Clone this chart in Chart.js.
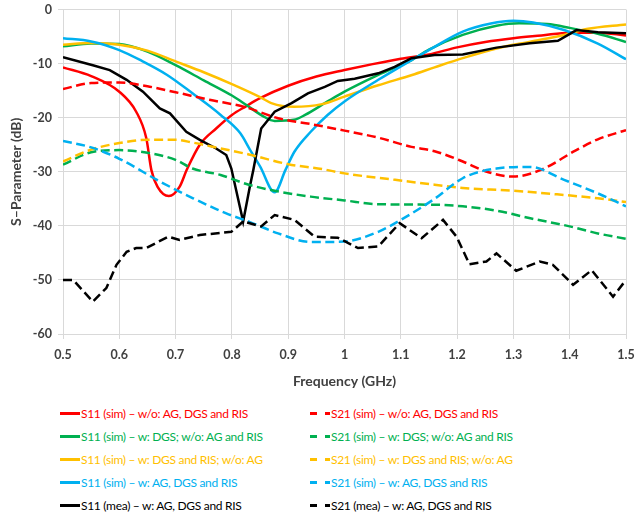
<!DOCTYPE html>
<html lang="en">
<head>
<meta charset="UTF-8">
<title>S-Parameter</title>
<script src="https://cdn.jsdelivr.net/npm/chart.js"></script>
<style>
  body { margin: 0; background: #fff; width: 636px; height: 516px; position: relative; overflow: hidden; font-family: Lato, "Open Sans", sans-serif; }
  #chart { position: absolute; left: 0; top: 0; }
  .legend-item { position: absolute; height: 23px; line-height: 23px; font-size: 12px; letter-spacing: -0.3px; white-space: nowrap; }
  .legend-item svg { position: absolute; left: 0; top: 0; }
  .legend-item span { position: absolute; left: 21px; top: 0; }
</style>
</head>
<body>
<canvas id="chart" width="636" height="400"></canvas>
<div id="legend"></div>
<script>
// S11, simulated / measured
const s11NoneF = [0.5, 0.55, 0.6, 0.63, 0.648, 0.657, 0.668, 0.688, 0.707, 0.72, 0.743, 0.772, 0.8, 0.825, 0.85, 0.9, 0.95, 1.0, 1.05, 1.1, 1.15, 1.2, 1.25, 1.3, 1.35, 1.4, 1.45, 1.5];
const s11NoneDb = [-10.7, -12.3, -15.2, -18.9, -23.8, -29.7, -32.8, -34.5, -32.8, -29.6, -25, -22, -19.5, -17.9, -16.4, -14.1, -12.4, -11.2, -10.1, -9.1, -8.3, -7.0, -6.0, -5.3, -4.8, -4.3, -4.3, -4.8];

const s11DgsF = [0.5, 0.55, 0.6, 0.65, 0.7, 0.75, 0.8, 0.825, 0.855, 0.876, 0.91, 0.93, 0.97, 1.0, 1.06, 1.12, 1.15, 1.21, 1.27, 1.31, 1.36, 1.4, 1.45, 1.5];
const s11DgsDb = [-6.8, -6.3, -6.4, -7.8, -10.3, -13.1, -15.9, -17.6, -19.7, -20.6, -20.4, -19.5, -17, -15.2, -12.1, -9.3, -7.4, -4.7, -3.0, -2.55, -2.7, -3.4, -4.5, -6.0];

const s11DgsRisF = [0.5, 0.55, 0.6, 0.65, 0.7, 0.75, 0.8, 0.85, 0.87, 0.91, 0.96, 1.0, 1.06, 1.12, 1.16, 1.21, 1.27, 1.33, 1.39, 1.43, 1.5];
const s11DgsRisDb = [-6.5, -6.2, -6.5, -7.6, -9.6, -11.6, -13.8, -16.2, -17.3, -18, -17.5, -16.1, -14, -12.1, -10.7, -9.0, -7.2, -5.95, -4.7, -3.6, -2.75];

const s11AllF = [0.5, 0.55, 0.6, 0.64, 0.685, 0.73, 0.78, 0.815, 0.832, 0.85, 0.876, 0.895, 0.911, 0.94, 0.97, 1.0, 1.06, 1.12, 1.16, 1.21, 1.26, 1.3, 1.335, 1.39, 1.45, 1.5];
const s11AllDb = [-5.3, -5.9, -7.5, -9.5, -12.1, -15.5, -19.5, -22.9, -25.9, -29, -33.8, -29.7, -26.3, -22.6, -19.5, -17, -13, -9.3, -6.9, -4.1, -2.6, -2.1, -2.4, -3.8, -6.3, -9.2];

const s11MeaF = [0.5, 0.553, 0.583, 0.613, 0.642, 0.672, 0.69, 0.719, 0.743, 0.772, 0.79, 0.799, 0.82, 0.832, 0.838, 0.852, 0.876, 0.906, 0.935, 0.965, 0.988, 1.018, 1.06, 1.089, 1.119, 1.16, 1.21, 1.27, 1.329, 1.379, 1.412, 1.45, 1.5];
const s11MeaDb = [-8.8, -10.3, -11.2, -13, -15.2, -18.3, -19.2, -22.6, -24.1, -25.7, -26.9, -29.4, -39.2, -32.7, -29.7, -22, -18.9, -17.3, -15.5, -14.3, -13.2, -12.8, -11.8, -10.6, -9.0, -8.4, -8.3, -7.05, -6.25, -5.8, -3.8, -4.2, -4.4];

// S21, simulated / measured
const s21NoneF = [0.5, 0.55, 0.6, 0.65, 0.7, 0.76, 0.822, 0.882, 0.941, 1.0, 1.06, 1.119, 1.16, 1.21, 1.25, 1.3, 1.35, 1.41, 1.45, 1.5];
const s21NoneDb = [-14.7, -13.6, -13.5, -14.2, -15.3, -16.7, -18, -20.1, -21.2, -22.4, -23.7, -25.4, -26.2, -28.1, -29.9, -30.9, -29.6, -26.1, -24.0, -22.3];

const s21DgsF = [0.5, 0.55, 0.6, 0.65, 0.7, 0.73, 0.78, 0.83, 0.88, 0.94, 1.0, 1.06, 1.16, 1.21, 1.27, 1.33, 1.4, 1.45, 1.5];
const s21DgsDb = [-28.7, -26.4, -26, -26.5, -27.8, -29.4, -30.6, -32.4, -33.6, -34.6, -35.3, -36, -36.1, -36.4, -37.2, -38.6, -40.1, -41.4, -42.4];

const s21DgsRisF = [0.5, 0.55, 0.6, 0.65, 0.7, 0.73, 0.78, 0.83, 0.9, 0.96, 1.0, 1.09, 1.16, 1.21, 1.3, 1.39, 1.45, 1.5];
const s21DgsRisDb = [-28.1, -25.9, -24.7, -24.1, -24.1, -24.6, -25.7, -26.8, -28.6, -29.5, -30.3, -31.5, -32.4, -33, -33.5, -34.3, -34.9, -35.6];

const s21AllF = [0.5, 0.55, 0.6, 0.672, 0.731, 0.79, 0.832, 0.882, 0.941, 1.0, 1.06, 1.1, 1.16, 1.21, 1.27, 1.33, 1.39, 1.45, 1.5];
const s21AllDb = [-24.3, -25.5, -27.6, -31.8, -34.9, -37.7, -39.3, -41.4, -43, -42.9, -41.1, -38.9, -35, -31.2, -29.4, -29.1, -31.5, -34, -36.4];

const s21MeaF = [0.5, 0.518, 0.553, 0.577, 0.595, 0.613, 0.63, 0.648, 0.687, 0.707, 0.743, 0.799, 0.82, 0.852, 0.876, 0.911, 0.947, 0.988, 1.024, 1.06, 1.098, 1.137, 1.175, 1.199, 1.222, 1.252, 1.27, 1.305, 1.347, 1.37, 1.406, 1.439, 1.477, 1.5];
const s21MeaDb = [-50, -50, -54, -51.5, -47.2, -44.8, -44.1, -44.1, -42, -42.6, -41.7, -41.1, -39.2, -40.1, -38, -38.9, -42, -42.2, -44.1, -43.8, -39.5, -42.3, -38.9, -42, -47.1, -46.6, -45.1, -48.3, -46.6, -47.2, -50.9, -48.2, -53.1, -50];

const xTicks = [0.5, 0.6, 0.7, 0.8, 0.9, 1, 1.1, 1.2, 1.3, 1.4, 1.5];
const yTicks = [0, -10, -20, -30, -40, -50, -60];

const names = [
  'S11 (sim) \u2013 w/o: AG, DGS and RIS',
  'S11 (sim) \u2013 w: DGS; w/o: AG and RIS',
  'S11 (sim) \u2013 w: DGS and RIS; w/o: AG',
  'S11 (sim) \u2013 w: AG, DGS and RIS',
  'S11 (mea) \u2013 w: AG, DGS and RIS',
  'S21 (sim) \u2013 w/o: AG, DGS and RIS',
  'S21 (sim) \u2013 w: DGS; w/o: AG and RIS',
  'S21 (sim) \u2013 w: DGS and RIS; w/o: AG',
  'S21 (sim) \u2013 w: AG, DGS and RIS',
  'S21 (mea) \u2013 w: AG, DGS and RIS'
];
const colors = ['#FF0000', '#00B050', '#FFC000', '#00B0F0', '#000000'];

const freqs = [s11NoneF, s11DgsF, s11DgsRisF, s11AllF, s11MeaF, s21NoneF, s21DgsF, s21DgsRisF, s21AllF, s21MeaF];
const values = [s11NoneDb, s11DgsDb, s11DgsRisDb, s11AllDb, s11MeaDb, s21NoneDb, s21DgsDb, s21DgsRisDb, s21AllDb, s21MeaDb];

const datasets = names.map((name, i) => {
  const dashed = i >= 5;
  const measured = i % 5 === 4;
  return {
    label: name,
    data: freqs[i].map((f, k) => ({ x: f, y: values[i][k] })),
    borderColor: colors[i % 5],
    borderWidth: 2.5,
    borderDash: dashed ? [9, 4.5] : [],
    pointRadius: 0,
    tension: measured ? 0 : 0.4,
    cubicInterpolationMode: measured ? 'default' : 'monotone',
    order: 10 - i
  };
});

const tickFont = { family: 'Lato', size: 12.5, weight: 'bold' };
const titleFont = { family: 'Lato', size: 14, weight: 'bold' };

new Chart(document.getElementById('chart'), {
  type: 'line',
  data: { datasets: datasets },
  options: {
    responsive: false,
    animation: false,
    layout: { padding: { top: 9.5, right: 10, left: 0, bottom: 0 } },
    plugins: { legend: { display: false }, tooltip: { enabled: false } },
    scales: {
      x: {
        type: 'linear',
        min: 0.5,
        max: 1.5,
        // keep the plot box where the reference has it
        afterFit: s => { s.height = 66; s.paddingLeft = 0; s.paddingRight = 10; },
        afterBuildTicks: s => { s.ticks = xTicks.map(v => ({ value: v })); },
        ticks: { font: tickFont, color: '#404040', padding: 8, maxRotation: 0,
          callback: v => String(Math.round(v * 10) / 10) },
        grid: { color: '#D9D9D9', lineWidth: 1, tickLength: 5 },
        border: { color: '#D9D9D9' },
        title: { display: true, text: 'Frequency (GHz)', font: titleFont,
          color: '#404040', padding: { top: 0, bottom: 10.6 } }
      },
      y: {
        min: -60,
        max: 0,
        afterFit: s => { s.width = 63; s.paddingTop = 9.5; s.paddingBottom = 0; },
        afterBuildTicks: s => { s.ticks = yTicks.map(v => ({ value: v })); },
        ticks: { font: tickFont, color: '#404040', padding: 6, callback: v => String(v) },
        grid: { color: '#D9D9D9', lineWidth: 1, tickLength: 5 },
        border: { color: '#D9D9D9' },
        title: { display: true, text: 'S\u2013Parameter (dB)', font: titleFont,
          color: '#404040', padding: { top: 8, bottom: 0 } }
      }
    }
  }
});

// legend in two columns, S11 left and S21 right
const legend = document.getElementById('legend');
names.forEach((name, i) => {
  const col = i < 5 ? 0 : 1;
  const row = i % 5;
  const item = document.createElement('div');
  item.className = 'legend-item';
  item.style.left = (col === 0 ? 60 : 310) + 'px';
  item.style.top = (401.5 + row * 23) + 'px';
  item.style.color = colors[row];
  const dash = col === 0 ? '' : ' stroke-dasharray="7 8"';
  item.innerHTML = '<svg width="21" height="23"><line x1="0" y1="11.5" x2="20" y2="11.5" stroke="' +
    colors[row] + '" stroke-width="3"' + dash + '/></svg><span>' + name + '</span>';
  legend.appendChild(item);
});
</script>
</body>
</html>
